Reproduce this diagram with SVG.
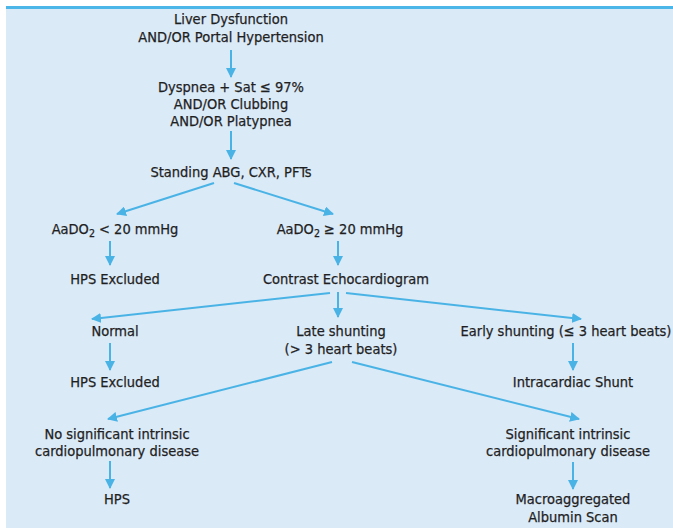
<svg xmlns="http://www.w3.org/2000/svg" width="673" height="528" viewBox="0 0 673 528">
<style>
text{font-family:"Liberation Sans Narrow","DejaVu Sans Condensed","Liberation Sans",sans-serif;font-size:14.5px;fill:#1f1f1f;stroke:#1f1f1f;stroke-width:0.25;text-anchor:middle}
.c line{stroke:#4ab3e6;stroke-width:2;marker-end:url(#ah)}
</style>
<defs>
<marker id="ah" viewBox="0 0 10 10" refX="9" refY="5" markerWidth="5" markerHeight="5" orient="auto" markerUnits="strokeWidth">
<path d="M0,0 L10,5 L0,10 Z" fill="#4ab3e6"/>
</marker>
</defs>
<rect x="0" y="0" width="673" height="528" fill="#ffffff"/>
<rect x="6" y="6" width="667" height="522" fill="#dbeaf7"/>
<rect x="6" y="6" width="667" height="3" fill="#4cb6e8"/>
<g class="c" id="connectors">
<line x1="231" y1="50" x2="231" y2="77"/>
<line x1="231" y1="131" x2="231" y2="159"/>
<line x1="214" y1="183" x2="117" y2="214"/>
<line x1="234" y1="183" x2="333" y2="214"/>
<line x1="110" y1="241" x2="110" y2="265"/>
<line x1="338" y1="241" x2="338" y2="265"/>
<line x1="330" y1="293" x2="92" y2="319"/>
<line x1="338" y1="292" x2="338" y2="317"/>
<line x1="346" y1="293" x2="581" y2="319"/>
<line x1="110" y1="343" x2="110" y2="370"/>
<line x1="573" y1="343" x2="573" y2="370"/>
<line x1="332" y1="362" x2="108" y2="419"/>
<line x1="352" y1="362" x2="579" y2="419"/>
<line x1="110" y1="461" x2="110" y2="488"/>
<line x1="573" y1="462" x2="573" y2="489"/>
</g>
<g id="n1"><text x="231" y="24">Liver Dysfunction</text><text x="231" y="42">AND/OR Portal Hypertension</text></g>
<g id="n2"><text x="231" y="92">Dyspnea + Sat ≤ 97%</text><text x="231" y="109">AND/OR Clubbing</text><text x="231" y="126">AND/OR Platypnea</text></g>
<g id="n3"><text x="231" y="177">Standing ABG, CXR, PFTs</text></g>
<g id="n4"><text x="115" y="234">AaDO<tspan font-size="10.5" dy="3">2</tspan><tspan dy="-3"> &lt; 20 mmHg</tspan></text></g>
<g id="n5"><text x="340" y="234">AaDO<tspan font-size="10.5" dy="3">2</tspan><tspan dy="-3"> ≥ 20 mmHg</tspan></text></g>
<g id="n6"><text x="115" y="284">HPS Excluded</text></g>
<g id="n7"><text x="346" y="284">Contrast Echocardiogram</text></g>
<g id="n8"><text x="115" y="336">Normal</text></g>
<g id="n9"><text x="341" y="336">Late shunting</text><text x="341" y="354">(&gt; 3 heart beats)</text></g>
<g id="n10"><text x="566" y="336">Early shunting (≤ 3 heart beats)</text></g>
<g id="n11"><text x="115" y="387">HPS Excluded</text></g>
<g id="n12"><text x="573" y="387">Intracardiac Shunt</text></g>
<g id="n13"><text x="117" y="439">No significant intrinsic</text><text x="117" y="456">cardiopulmonary disease</text></g>
<g id="n14"><text x="568" y="439">Significant intrinsic</text><text x="568" y="456">cardiopulmonary disease</text></g>
<g id="n15"><text x="117" y="504">HPS</text></g>
<g id="n16"><text x="573" y="504">Macroaggregated</text><text x="573" y="522">Albumin Scan</text></g>
</svg>
